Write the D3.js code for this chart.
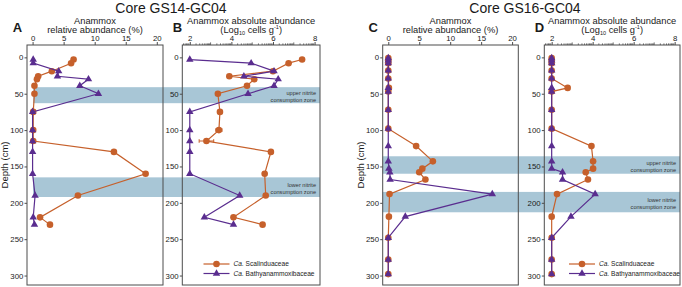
<!DOCTYPE html>
<html>
<head>
<meta charset="utf-8">
<script src="https://cdn.jsdelivr.net/npm/d3@7"></script>
<style>
  body { margin: 0; background: #fff; }
  svg { display: block; font-family: "Liberation Sans", Arial, Helvetica, sans-serif; }
</style>
</head>
<body>
<svg id="chart" width="682" height="287"></svg>
<script>
// ---- data ----
const gs14Depth  = [3, 8, 19, 26, 30, 39, 50, 75, 100, 115, 130, 160, 190, 220, 230];
const gs14RelSca = [6.6, 6.2, 3.1, 0.9, 0.7, 0.3, 0.3, 0.1, 0.1, 0.1, 13.1, 18.2, 7.3, 1.2, 2.8];
const gs14RelBat = [0.1, 0.1, 4.2, 4.0, 9.0, 7.6, 10.6, 0, 0, 0, 0, 0, 0.4, 0.1, 0.3];
const gs14AbsSca = [7.4, 6.75, 6.0, 3.9, 5.1, 4.75, 3.35, 3.45, 3.4, 2.8, 5.9, 5.6, 5.65, 4.1, 5.5];
const gs14AbsScaErr = [0, 0, 0, 0, 0, 0, 0, 0, 0.15, 0.35, 0, 0, 0, 0, 0];
const gs14AbsBat = [2.0, 4.95, 6.05, 4.6, 6.25, 6.05, 4.8, 2.0, 2.0, 2.0, 2.0, 2.0, 4.4, 2.7, 4.1];

const gs16Depth  = [1, 4, 8, 18, 29, 42, 47, 72, 98, 122, 143, 153, 158, 168, 188, 219, 248, 278, 298];
const gs16RelSca = [0, 0, 0, 0, 0, 0.1, 0, 0, 0, 4.5, 7.2, 5.5, 5.0, 6.0, 0.2, 0.1, 0, 0, 0];
const gs16RelBat = [0, 0, 0, 0, 0, 0, 0, 0, 0, 0, 0, 0.1, 0.25, 0.3, 16.8, 2.75, 0, 0, 0];
const gs16AbsSca = [2, 2, 2, 2, 2, 2.78, 2, 2, 2, 3.94, 4.02, 4.02, 3.66, 3.77, 2.26, 2, 2, 2, 2];
const gs16AbsBat = [2, 2, 2, 2, 2, 2, 2, 2, 2, 2, 2, 2, 2.53, 2.53, 4.12, 2.94, 2, 2, 2];

// nitrite consumption zones (depth cm)
const gs14Zones = [[41, 63], [165, 192]];
const gs16Zones = [[136, 160], [185, 213]];

const depthTicks = [0, 50, 100, 150, 200, 250, 300];
const relTicks = [0, 5, 10, 15, 20];
const absTicks = [2, 4, 6, 8];

const seriesNames = ["Scalinduaceae", "Bathyanammoxibaceae"];

// ---- styles ----
const colSca = "#c6602b";
const colBat = "#5a2d8f";
const bandCol = "#a8c6d6";
const boxCol = "#4d4d4d";
const txtCol = "#1a1a1a";

const svg = d3.select("#chart");

const y = d3.scaleLinear().domain([-17, 313]).range([45, 285]);

const panels = [
  { letter: "A", x0: 27, x1: 163, kind: "rel", depth: gs14Depth, sca: gs14RelSca, bat: gs14RelBat },
  { letter: "B", x0: 182.3, x1: 320, kind: "abs", depth: gs14Depth, sca: gs14AbsSca, bat: gs14AbsBat, err: gs14AbsScaErr, legendX: 203.5 },
  { letter: "C", x0: 382.7, x1: 518.3, kind: "rel", depth: gs16Depth, sca: gs16RelSca, bat: gs16RelBat },
  { letter: "D", x0: 544.3, x1: 680, kind: "abs", depth: gs16Depth, sca: gs16AbsSca, bat: gs16AbsBat, legendX: 569 }
];
panels.forEach(p => {
  p.x = d3.scaleLinear()
    .domain(p.kind === "rel" ? [-0.9, 21] : [1.64, 8.26])
    .range([p.x0, p.x1]);
});

// ---- zone bands (behind everything) ----
const bandLayer = svg.append("g");
function drawBands(zones, xa, xb, labelRight) {
  zones.forEach((z, i) => {
    bandLayer.append("rect")
      .attr("x", xa).attr("y", y(z[0]))
      .attr("width", xb - xa).attr("height", y(z[1]) - y(z[0]))
      .attr("fill", bandCol);
    const cy = (y(z[0]) + y(z[1])) / 2;
    const t = bandLayer.append("text")
      .attr("text-anchor", "end")
      .style("font-size", "5.6px")
      .attr("fill", "#333");
    t.append("tspan").attr("x", labelRight).attr("y", cy).text((i === 0 ? "upper" : "lower") + " nitrite");
    t.append("tspan").attr("x", labelRight).attr("y", cy + 6.5).text("consumption zone");
  });
}
drawBands(gs14Zones, 33, panels[1].x1, panels[1].x1 - 4);
drawBands(gs16Zones, panels[2].x0, panels[3].x1, panels[3].x1 - 4);

// ---- panels ----
panels.forEach(p => {
  const g = svg.append("g");
  const x = p.x;

  // top axis
  const ax = g.append("g")
    .attr("transform", `translate(0,${y.range()[0]})`)
    .call(d3.axisTop(x).tickValues(p.kind === "rel" ? relTicks : absTicks)
      .tickSize(3).tickPadding(1.2).tickFormat(d3.format("d")));
  ax.select(".domain").remove();
  ax.selectAll("text").style("font-size", "7.8px").attr("fill", txtCol);
  ax.selectAll("line").attr("stroke", boxCol);

  // minor ticks on log axis
  if (p.kind === "abs") {
    const minor = [];
    for (let n = 1; n <= 8; n++) {
      for (let k = 2; k <= 9; k++) minor.push(n + Math.log10(k));
      if (n % 2 === 1) minor.push({ v: n, mid: true });
    }
    g.append("g").selectAll("line").data(minor)
      .join("line")
      .filter(d => { const v = d.v ?? d; return v > x.domain()[0] && v < x.domain()[1]; })
      .attr("x1", d => x(d.v ?? d)).attr("x2", d => x(d.v ?? d))
      .attr("y1", y.range()[0]).attr("y2", d => y.range()[0] - (d.mid ? 2.6 : 1.6))
      .attr("stroke", boxCol).attr("stroke-width", 0.8);
  }

  // left axis
  const ay = g.append("g")
    .attr("transform", `translate(${p.x0},0)`)
    .call(d3.axisLeft(y).tickValues(depthTicks).tickSize(2.5).tickPadding(1.2));
  ay.select(".domain").remove();
  ay.selectAll("text").style("font-size", "7.8px").attr("fill", txtCol);
  ay.selectAll("line").attr("stroke", boxCol);

  // box
  g.append("rect")
    .attr("x", p.x0).attr("y", y.range()[0])
    .attr("width", p.x1 - p.x0).attr("height", y.range()[1] - y.range()[0])
    .attr("fill", "none").attr("stroke", boxCol).attr("stroke-width", 1);

  // series
  const line = d3.line().x(d => x(d.v)).y(d => y(d.d));
  const sca = p.depth.map((d, i) => ({ d, v: p.sca[i], e: p.err ? p.err[i] : 0 }));
  const bat = p.depth.map((d, i) => ({ d, v: p.bat[i] }));

  g.append("path").datum(sca).attr("d", line)
    .attr("fill", "none").attr("stroke", colSca).attr("stroke-width", 1.2);
  const eb = sca.filter(d => d.e > 0);
  g.append("g").selectAll("path").data(eb).join("path")
    .attr("d", d => `M${x(d.v - d.e)},${y(d.d) - 1.8}V${y(d.d) + 1.8}M${x(d.v - d.e)},${y(d.d)}H${x(d.v + d.e)}M${x(d.v + d.e)},${y(d.d) - 1.8}V${y(d.d) + 1.8}`)
    .attr("fill", "none").attr("stroke", colSca).attr("stroke-width", 1);
  g.append("g").selectAll("circle").data(sca).join("circle")
    .attr("cx", d => x(d.v)).attr("cy", d => y(d.d)).attr("r", 3.3)
    .attr("fill", colSca);

  g.append("path").datum(bat).attr("d", line)
    .attr("fill", "none").attr("stroke", colBat).attr("stroke-width", 1.2);
  const tri = d3.symbol(d3.symbolTriangle, 24);
  g.append("g").selectAll("path").data(bat).join("path")
    .attr("transform", d => `translate(${x(d.v)},${y(d.d)})`)
    .attr("d", tri).attr("fill", colBat);

  // panel letter
  g.append("text").attr("x", p.x0 - (p.kind === "rel" ? 14.3 : 9.6)).attr("y", 31.7)
    .style("font-size", "13px").style("font-weight", "bold").attr("fill", txtCol)
    .text(p.letter);

  // axis title
  const cx = (p.x0 + p.x1) / 2;
  if (p.kind === "rel") {
    g.append("text").attr("x", cx).attr("y", 23.5).attr("text-anchor", "middle")
      .style("font-size", "9.3px").attr("fill", txtCol).text("Anammox");
    g.append("text").attr("x", cx).attr("y", 33).attr("text-anchor", "middle")
      .style("font-size", "9.3px").attr("fill", txtCol).text("relative abundance (%)");
    g.append("text")
      .attr("transform", `translate(${p.x0 - 19},165) rotate(-90)`)
      .attr("text-anchor", "middle").style("font-size", "9.5px").attr("fill", txtCol)
      .text("Depth (cm)");
  } else {
    g.append("text").attr("x", cx).attr("y", 23.5).attr("text-anchor", "middle")
      .style("font-size", "9.3px").attr("fill", txtCol).text("Anammox absolute abundance");
    const t = g.append("text").attr("x", cx).attr("y", 33).attr("text-anchor", "middle")
      .style("font-size", "9.3px").attr("fill", txtCol);
    t.append("tspan").text("(Log");
    t.append("tspan").attr("dy", 1.8).style("font-size", "5.5px").text("10");
    t.append("tspan").attr("dy", -1.8).text(" cells g");
    t.append("tspan").attr("dy", -3.6).style("font-size", "5.5px").text("-1");
    t.append("tspan").attr("dy", 3.6).text(")");

    // legend
    const lg = g.append("g");
    [[colSca, "circle"], [colBat, "tri"]].forEach((s, i) => {
      const ly = 264 + i * 9.5;
      lg.append("line").attr("x1", p.legendX).attr("x2", p.legendX + 26)
        .attr("y1", ly).attr("y2", ly).attr("stroke", s[0]).attr("stroke-width", 1.2);
      if (s[1] === "circle") {
        lg.append("circle").attr("cx", p.legendX + 13).attr("cy", ly).attr("r", 3.3).attr("fill", s[0]);
      } else {
        lg.append("path").attr("transform", `translate(${p.legendX + 13},${ly})`).attr("d", tri).attr("fill", s[0]);
      }
      const lt = lg.append("text").attr("x", p.legendX + 30).attr("y", ly + 2.3)
        .style("font-size", "6.6px").attr("fill", txtCol);
      lt.append("tspan").style("font-style", "italic").text("Ca.");
      lt.append("tspan").text(" " + seriesNames[i]);
    });
  }
});

// core titles
svg.append("text").attr("x", 171).attr("y", 12.5).attr("text-anchor", "middle")
  .style("font-size", "14px").attr("fill", txtCol).text("Core GS14-GC04");
svg.append("text").attr("x", 525).attr("y", 12.5).attr("text-anchor", "middle")
  .style("font-size", "14px").attr("fill", txtCol).text("Core GS16-GC04");
</script>
</body>
</html>
